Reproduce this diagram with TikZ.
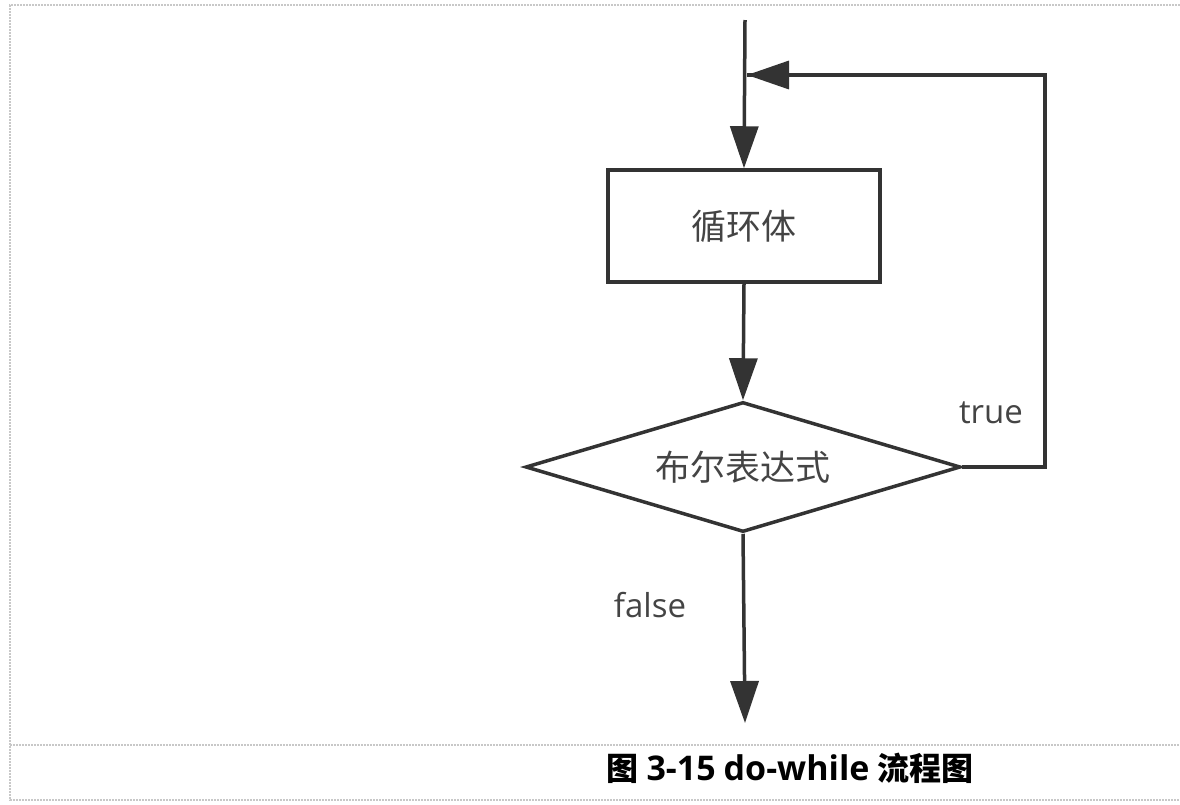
\documentclass[tikz,border=0pt]{standalone}
\usepackage{fontspec}
\setmainfont{Open Sans}
\newfontfamily\cjk{Noto Sans CJK SC}
\usetikzlibrary{arrows.meta,shapes.geometric}
\definecolor{ink}{HTML}{333333}
\definecolor{txt}{HTML}{444444}
\definecolor{framegray}{HTML}{C8C8C8}
\begin{document}
\begin{tikzpicture}[x=1pt,y=-1pt,
  flow/.style={line width=3.5pt, draw=ink},
  arr/.style={flow, -{Triangle[length=42pt,width=28pt]}},
  box/.style={flow, rectangle, minimum width=272pt, minimum height=112pt,
    inner sep=0pt, text=txt, font=\cjk\fontsize{35}{40}\selectfont},
  decision/.style={flow, diamond, shape aspect=3.35, minimum width=435pt,
    minimum height=130pt, inner sep=0pt, text=txt,
    font=\cjk\fontsize{35}{40}\selectfont},
  lbl/.style={text=txt, inner sep=0pt, font=\fontsize{33}{38}\selectfont},
  framestyle/.style={draw=framegray, line width=1.2pt, dash pattern=on 2pt off 1pt}
]
\useasboundingbox (0,0) rectangle (1180,804);

% page frame and caption separator
\draw[framestyle] (1180,5) -- (10,5) -- (10,800) -- (1180,800);
\draw[framestyle] (10,745) -- (1180,745);

% flow nodes
\coordinate (start) at (745,20);
\node[box] (body) at (744,226) {循环体};
\node[decision] (cond) at (743,467) {布尔表达式};
\coordinate (exit) at (745,723);
\coordinate (corner) at (1045,75);
\coordinate (join) at (747,75);

% connectors
\draw[arr] (start) -- (body.north);
\draw[arr] (body.south) -- (cond.north);
\draw[arr] (cond.south) -- (exit);
\draw[flow, line join=miter] (cond.east) -| (corner) -- (join);
\draw[arr] (corner) -- (join);

% branch labels
\node[lbl] (ltrue) at (991,413) {true};
\node[lbl] (lfalse) at (650,605) {false};

% caption
\node[inner sep=0pt, text=black, font=\bfseries\fontsize{34}{38}\selectfont] (caption) at (790,768)
  {{\cjk\fontsize{32}{36}\selectfont 图}\hspace{8pt}3-15\hspace{8pt}do-while\hspace{8pt}{\cjk\fontsize{32}{36}\selectfont 流程图}};
\end{tikzpicture}
\end{document}
